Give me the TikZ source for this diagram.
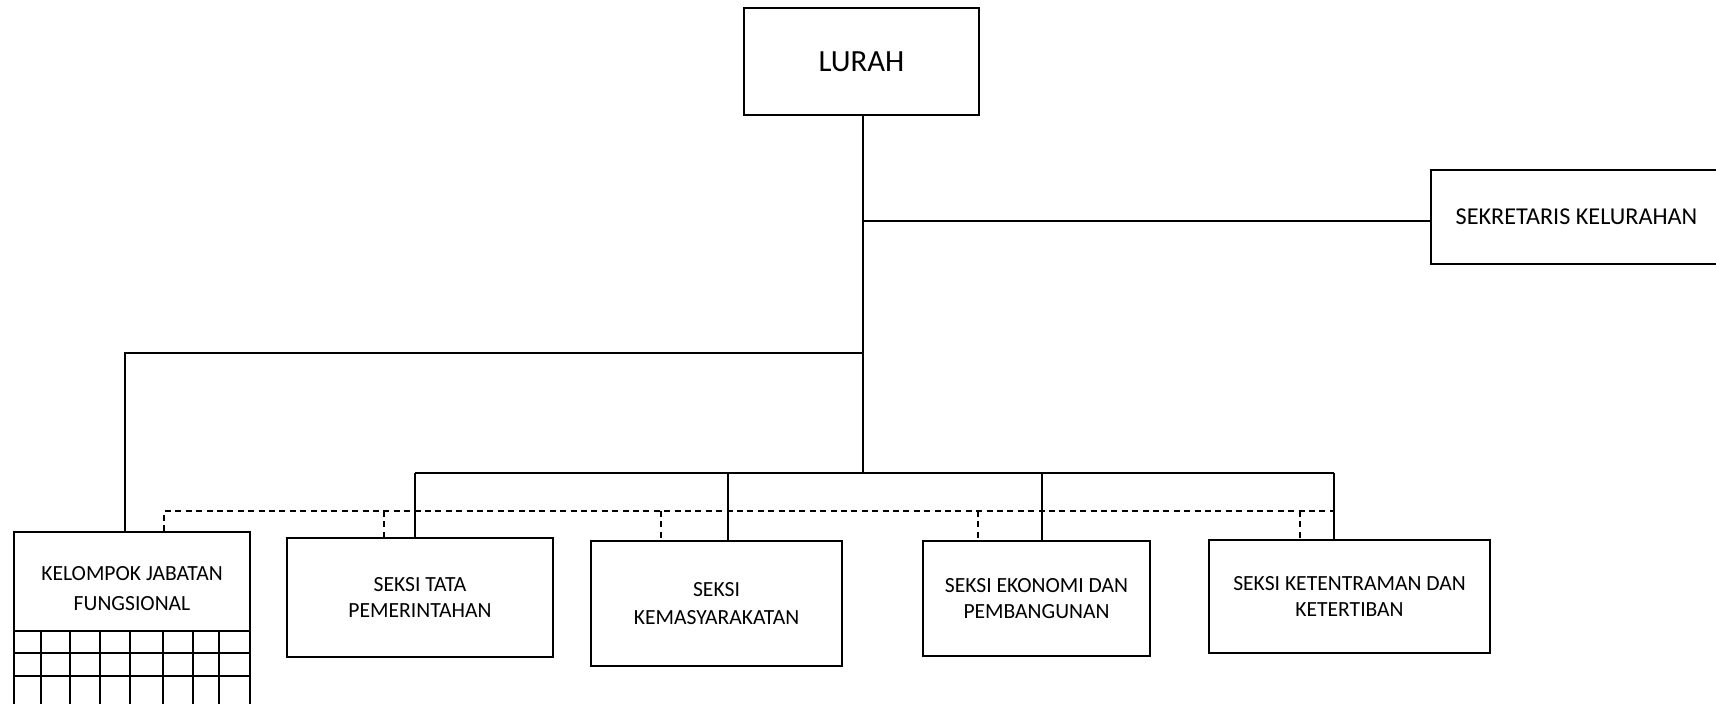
\documentclass[tikz,border=0pt]{standalone}
\usepackage{fontspec}
\setmainfont{Carlito}
\begin{document}
\begin{tikzpicture}[x=0.5pt,y=-0.5pt,
  box/.style={draw, line width=1.1pt, inner sep=0pt, align=center, font=\fontsize{10.8}{13}\selectfont},
  conn/.style={line width=0.85pt},
  dconn/.style={line width=0.85pt, dash pattern=on 3pt off 2.2pt},
  gridline/.style={line width=0.9pt}]
\useasboundingbox (0,0) rectangle (1716,703);
\begin{scope}
\clip (0,0) rectangle (1716,703);
% boxes
\node[box, minimum width=117.5pt, minimum height=53.5pt, font=\fontsize{15.4}{18}\selectfont] (lurah) at (861.5,61.5) {LURAH};
\node[box, minimum width=145.5pt, minimum height=47pt, font=\fontsize{12.1}{14}\selectfont] (sek) at (1576.5,217) {SEKRETARIS KELURAHAN};
\node[box, minimum width=118pt, minimum height=49.5pt] (kel) at (132,581.5) {};
\node[font=\fontsize{10.8}{14.8}\selectfont, align=center, inner sep=0pt] (keltext) at (132,588.5) {KELOMPOK JABATAN\\FUNGSIONAL};
\node[box, minimum width=133pt, minimum height=59.5pt] (tata) at (420,597.5) {SEKSI TATA\\PEMERINTAHAN};
\node[box, minimum width=125.5pt, minimum height=62.5pt, font=\fontsize{10.8}{14.2}\selectfont] (kemas) at (716.5,603.5) {SEKSI\\KEMASYARAKATAN};
\node[box, minimum width=113.5pt, minimum height=57.5pt] (eko) at (1036.5,598.5) {SEKSI EKONOMI DAN\\PEMBANGUNAN};
\node[box, minimum width=140.5pt, minimum height=56.5pt] (ket) at (1349.5,596.5) {SEKSI KETENTRAMAN DAN\\KETERTIBAN};
% grid under kelompok
\foreach \y in {653,676} \draw[gridline] (14,\y) -- (250,\y);
\foreach \x in {14,41,70,100,130,163,193,219,250} \draw[gridline] (\x,631) -- (\x,710);
% coordinates
\coordinate (top) at (863,115);
\coordinate (busc) at (863,473);
\coordinate (sekj) at (863,221);
\coordinate (kelj) at (863,353);
\coordinate (kell) at (125,353);
\coordinate (b1) at (415,473);
\coordinate (b2) at (728,473);
\coordinate (b3) at (1042,473);
\coordinate (b4) at (1334,473);
\coordinate (d0) at (164,511);
\coordinate (d1) at (384,511);
\coordinate (d2) at (661,511);
\coordinate (d3) at (978,511);
\coordinate (d4) at (1300,511);
\coordinate (d5) at (1334,511);
% solid connectors
\draw[conn] (top) -- (busc);
\draw[conn] (sekj) -- (sekj -| sek.west);
\draw[conn] (kelj) -- (kell) -- (kell |- kel.north);
\draw[conn] (b1) -- (b4);
\draw[conn] (b1) -- (b1 |- tata.north);
\draw[conn] (b2) -- (b2 |- kemas.north);
\draw[conn] (b3) -- (b3 |- eko.north);
\draw[conn] (b4) -- (b4 |- ket.north);
% dashed connectors
\draw[dconn] (d0 |- kel.north) -- (d0) -- (d5);
\draw[dconn] (d1) -- (d1 |- tata.north);
\draw[dconn] (d2) -- (d2 |- kemas.north);
\draw[dconn] (d3) -- (d3 |- eko.north);
\draw[dconn] (d4) -- (d4 |- ket.north);
\end{scope}
\end{tikzpicture}
\end{document}
